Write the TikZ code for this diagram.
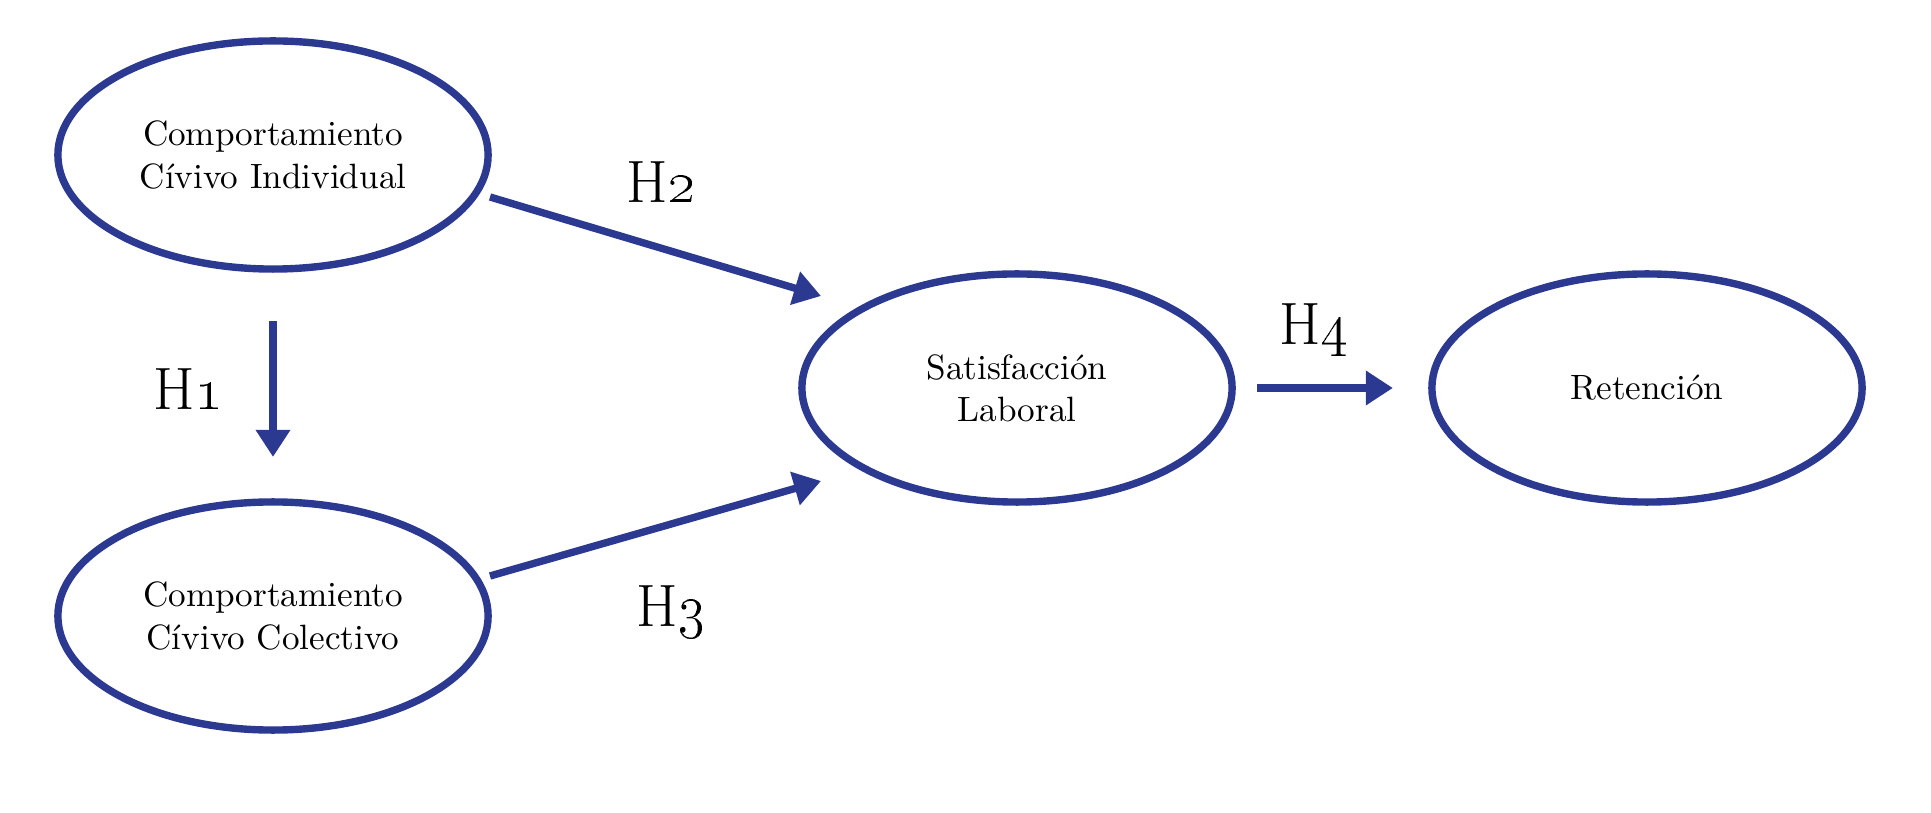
\documentclass[tikz,border=0pt]{standalone}
\usetikzlibrary{positioning,calc,arrows.meta,shapes.geometric}

\definecolor{modelblue}{RGB}{43,57,144}

\begin{document}
\begin{tikzpicture}[
  x=0.01cm, y=-0.01cm,
  construct/.style={ellipse, draw=modelblue, line width=2.1pt, fill=white,
                    minimum width=4.30cm, minimum height=2.28cm, outer sep=0pt,
                    align=center, font=\normalsize, inner sep=1pt},
  arr/.style={-{Triangle[length=7.7pt, width=9.4pt]}, line width=2.1pt, modelblue},
  hyp/.style={font=\fontsize{17}{20}\selectfont}
]
\useasboundingbox (0,0) rectangle (1931,813);

\node[construct] (cci) at (273,155)  {Comportamiento\\Cívivo Individual};
\node[construct] (ccc) at (273,616)  {Comportamiento\\Cívivo Colectivo};
\node[construct] (sat) at (1017,388) {Satisfacción\\Laboral};
\node[construct] (ret) at (1647,388) {Retención};

% Hypotheses
\draw[arr] ($(cci.south)+(0,52)$) -- ($(ccc.north)+(0,-45)$);
\draw[arr] ($(cci)+(217,42)$) -- ($(sat)+(-196,-92)$);
\draw[arr] ($(ccc)+(217,-40)$) -- ($(sat)+(-196,93)$);
\draw[arr] ($(sat.east)+(25,0)$) -- ($(ret.west)+(-39,0)$);

\node[hyp] (h1) at (188,389) {H\oldstylenums{1}};
\node[hyp] (h2) at (661,182) {H\oldstylenums{2}};
\node[hyp] (h3) at (671,612) {H\oldstylenums{3}};
\node[hyp] (h4) at (1314,330) {H\oldstylenums{4}};

\end{tikzpicture}
\end{document}
